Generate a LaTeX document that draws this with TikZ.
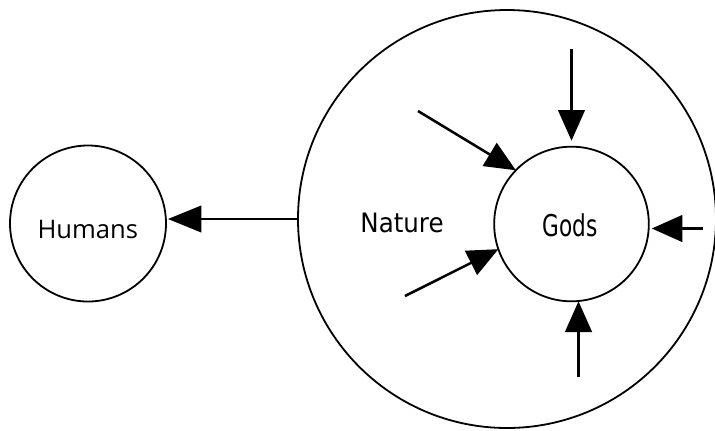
\documentclass[tikz,border=0pt]{standalone}
\usepackage{fontspec}
\usetikzlibrary{arrows.meta}
\newfontfamily\humansfont{Open Sans}
\newfontfamily\naturefont[FakeStretch=0.92]{DejaVu Sans}
\newfontfamily\godsfont[FakeStretch=0.8]{DejaVu Sans Condensed}
\begin{document}
\begin{tikzpicture}[x=0.75pt,y=-0.75pt,
  ring/.style={circle,draw,line width=1.35pt,inner sep=0pt,outer sep=0pt},
  word/.style={anchor=base,inner sep=0pt},
  push/.style={line width=1.9pt,-{Triangle[length=23pt,width=20pt]}},
  flow/.style={line width=1.4pt,-{Triangle[length=25pt,width=20pt]}}]
\useasboundingbox (0,0) rectangle (715,430);

% circles
\node[ring,minimum size=313.5pt] (nature) at (507,219) {};
\node[ring,minimum size=117pt] (humans) at (88,223.5) {};
\node[ring,minimum size=116pt] (gods) at (571.5,224) {};

% labels
\node[word,font=\humansfont\fontsize{19.2}{21}\selectfont] (thumans) at (87.8,238.3) {Humans};
\node[word,font=\naturefont\fontsize{20}{22}\selectfont] (tnature) at (402,232.3) {Nature};
\node[word,font=\godsfont\fontsize{22.5}{24}\selectfont] (tgods) at (570,236) {Gods};

% Nature acts on Humans
\draw[flow,shorten >=1.5pt] (nature.west) -- (nature.west -| humans.east);

% forces pressing on the Gods
\coordinate (sT) at (571.5,49);
\coordinate (sUL) at (418,111);
\coordinate (sLL) at (405,296);
\coordinate (sR) at (703,228.5);
\coordinate (sB) at (578.5,377);
\draw[push,shorten >=4.5pt] (sT) -- (sT |- gods.north);
\draw[push] (sUL) -- (gods.136);
\draw[push] (sLL) -- (gods.199);
\draw[push,shorten >=2.2pt] (sR) -- (sR -| gods.east);
\draw[push] (sB) -- (sB |- gods.south);
\end{tikzpicture}
\end{document}
